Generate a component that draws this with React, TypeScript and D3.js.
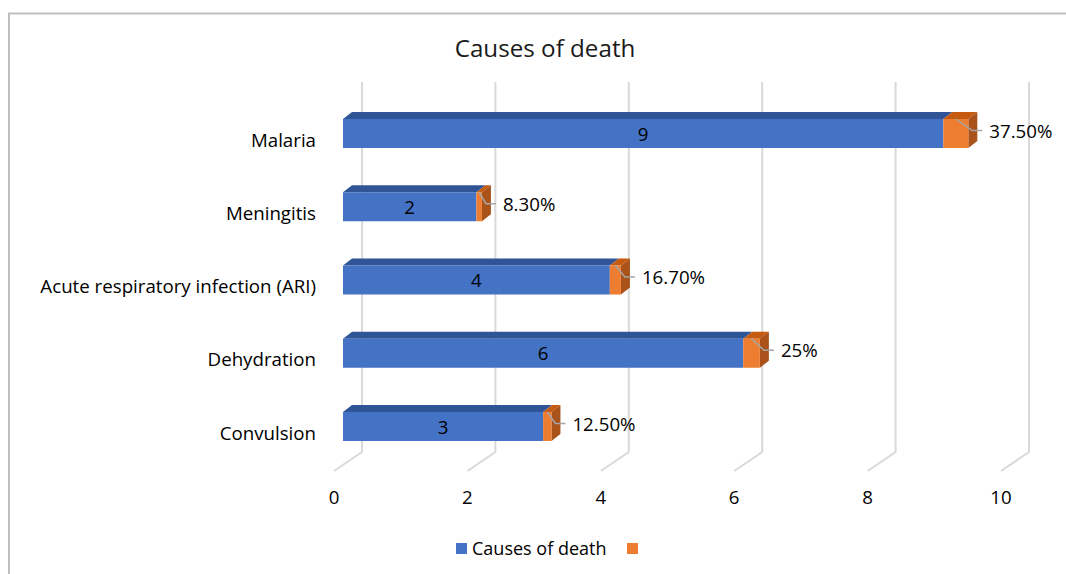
import * as d3 from "d3";

const W = 1066;
const H = 574;

const categories = ["Malaria", "Meningitis", "Acute respiratory infection (ARI)", "Dehydration", "Convulsion"];
const deaths = [9, 2, 4, 6, 3];
const shares = [0.375, 0.083, 0.167, 0.25, 0.125];
const shareLabels = ["37.50%", "8.30%", "16.70%", "25%", "12.50%"];
const xTicks = [0, 2, 4, 6, 8, 10];

const FONT = "'Open Sans', 'Noto Sans', sans-serif";
const BLUE = "#4472C4";
const BLUE_TOP = "#2F5597";
const ORANGE = "#ED7D31";
const ORANGE_TOP = "#C55A11";
const ORANGE_SIDE = "#A9531B";
const GRID = "#D9D9D9";
const LABEL_SIZE = 18.7;

// floor/back wall geometry (oblique 3D look like excel)
const FLOOR_FRONT_Y = 471;
const DEPTH = { dx: 28, dy: -19 };
const BAR_DEPTH = { dx: 9, dy: -7 };
const BAR_H = 29;

export default function App() {
  const xFront = d3.scaleLinear().domain([0, 10]).range([334, 1001]);
  // bars sit a little behind the front edge of the floor
  const xBar = d3.scaleLinear().domain([0, 10]).range([343, 1010]);
  const yScale = d3.scalePoint<string>().domain(categories).range([133.5, 426.5]);

  const face = (pts: [number, number][]) => pts.map((p) => p.join(",")).join(" ");

  return (
    <svg width={W} height={H} style={{ position: "absolute", left: 0, top: 0, fontFamily: FONT }}>
      <rect x={0} y={0} width={W} height={H} fill="#fff" />
      <path d={`M9,${H + 5} L9,13.5 L${W + 5},13.5`} fill="none" stroke="#BFBFBF" strokeWidth={2} />

      <text x={545} y={57} textAnchor="middle" fontSize={24.2} fill="#1a1a1a">
        Causes of death
      </text>

      {/* back wall gridlines + floor */}
      {xTicks.map((t) => {
        const fx = xFront(t);
        const bx = fx + DEPTH.dx;
        const by = FLOOR_FRONT_Y + DEPTH.dy;
        return (
          <g key={t}>
            <path
              d={`M${bx},82 L${bx},${by} L${fx},${FLOOR_FRONT_Y}`}
              fill="none"
              stroke={GRID}
              strokeWidth={2}
            />
            <text x={fx} y={504} textAnchor="middle" fontSize={LABEL_SIZE} fill="#000">
              {t}
            </text>
          </g>
        );
      })}

      {categories.map((c, i) => {
        const cy = yScale(c) as number;
        const top = cy - BAR_H / 2;
        const bot = cy + BAR_H / 2;
        const x0 = xBar(0);
        const x1 = xBar(deaths[i]);
        const x2 = xBar(deaths[i] + shares[i]);
        const { dx, dy } = BAR_DEPTH;
        const midOrange = (x1 + x2) / 2;
        const elbowX = x2 + 4;
        const elbowY = cy - 3;
        return (
          <g key={c}>
            <text x={316} y={cy + 13} textAnchor="end" fontSize={LABEL_SIZE} fill="#000">
              {c}
            </text>
            {/* blue segment */}
            <polygon points={face([[x0, top], [x0 + dx, top + dy], [x1 + dx, top + dy], [x1, top]])} fill={BLUE_TOP} />
            <rect x={x0} y={top} width={x1 - x0} height={BAR_H} fill={BLUE} />
            {/* orange segment */}
            <polygon points={face([[x1, top], [x1 + dx, top + dy], [x2 + dx, top + dy], [x2, top]])} fill={ORANGE_TOP} />
            <polygon points={face([[x2, top], [x2 + dx, top + dy], [x2 + dx, bot + dy], [x2, bot]])} fill={ORANGE_SIDE} />
            <rect x={x1} y={top} width={x2 - x1} height={BAR_H} fill={ORANGE} />
            <text x={(x0 + x1) / 2} y={cy + 7} textAnchor="middle" fontSize={LABEL_SIZE} fill="#000">
              {deaths[i]}
            </text>
            <path
              d={`M${midOrange},${top} L${elbowX},${elbowY} L${elbowX + 10},${elbowY}`}
              fill="none"
              stroke="#A6A6A6"
              strokeWidth={1.5}
            />
            <text x={elbowX + 17} y={elbowY + 7} fontSize={LABEL_SIZE} fill="#000">
              {shareLabels[i]}
            </text>
          </g>
        );
      })}

      {/* legend */}
      <rect x={456} y={543} width={11} height={11} fill={BLUE} />
      <text x={472} y={555} fontSize={18} fill="#000">
        Causes of death
      </text>
      <rect x={627} y={543} width={11} height={11} fill={ORANGE} />
    </svg>
  );
}
